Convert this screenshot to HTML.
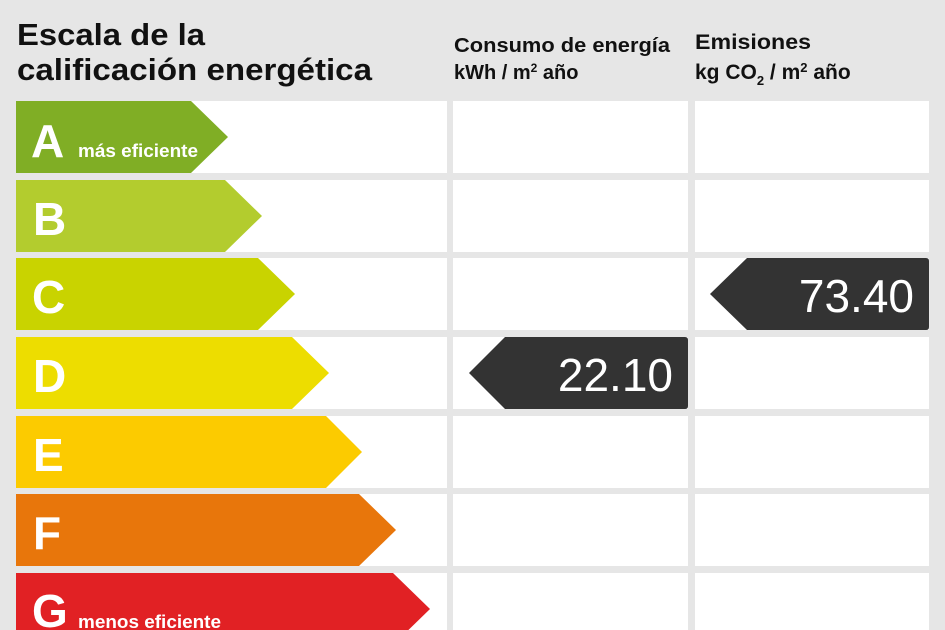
<!DOCTYPE html>
<html><head><meta charset="utf-8"><style>
html,body{margin:0;padding:0;background:#e6e6e6;width:945px;height:630px;overflow:hidden}
svg{display:block}
text{font-family:"Liberation Sans",Arial,sans-serif}
</style></head><body>
<svg width="945" height="630" viewBox="0 0 945 630" xmlns="http://www.w3.org/2000/svg">
<rect width="945" height="630" fill="#e6e6e6"/>
<text x="17" y="45" font-size="31" font-weight="bold" fill="#111" textLength="188" lengthAdjust="spacingAndGlyphs">Escala de la</text>
<text x="17" y="80" font-size="31" font-weight="bold" fill="#111" textLength="355" lengthAdjust="spacingAndGlyphs">calificación energética</text>
<text x="454" y="52" font-size="20" font-weight="bold" fill="#111" textLength="216" lengthAdjust="spacingAndGlyphs">Consumo de energía</text>
<text x="454" y="79" font-size="20" font-weight="bold" fill="#111">kWh / m<tspan font-size="12" dy="-7">2</tspan><tspan dy="7"> año</tspan></text>
<text x="695" y="49" font-size="21" font-weight="bold" fill="#111" textLength="116" lengthAdjust="spacingAndGlyphs">Emisiones</text>
<text x="695" y="79" font-size="21" font-weight="bold" fill="#111">kg CO<tspan font-size="13" dy="6">2</tspan><tspan dy="-6"> / m</tspan><tspan font-size="13" dy="-7">2</tspan><tspan dy="7"> año</tspan></text>
<g fill="#fff">
<rect x="16" y="101" width="431" height="72"/><rect x="453" y="101" width="235" height="72"/><rect x="695" y="101" width="234" height="72"/>
<rect x="16" y="180" width="431" height="72"/><rect x="453" y="180" width="235" height="72"/><rect x="695" y="180" width="234" height="72"/>
<rect x="16" y="258" width="431" height="72"/><rect x="453" y="258" width="235" height="72"/><rect x="695" y="258" width="234" height="72"/>
<rect x="16" y="337" width="431" height="72"/><rect x="453" y="337" width="235" height="72"/><rect x="695" y="337" width="234" height="72"/>
<rect x="16" y="416" width="431" height="72"/><rect x="453" y="416" width="235" height="72"/><rect x="695" y="416" width="234" height="72"/>
<rect x="16" y="494" width="431" height="72"/><rect x="453" y="494" width="235" height="72"/><rect x="695" y="494" width="234" height="72"/>
<rect x="16" y="573" width="431" height="72"/><rect x="453" y="573" width="235" height="72"/><rect x="695" y="573" width="234" height="72"/>
</g>
<polygon points="16,101 191,101 228,137 191,173 16,173" fill="#80ae25"/>
<polygon points="16,180 225,180 262,216 225,252 16,252" fill="#b3cc2e"/>
<polygon points="16,258 258,258 295,294 258,330 16,330" fill="#c9d300"/>
<polygon points="16,337 292,337 329,373 292,409 16,409" fill="#eddd00"/>
<polygon points="16,416 326,416 362,452 326,488 16,488" fill="#fccb00"/>
<polygon points="16,494 359,494 396,530 359,566 16,566" fill="#e8760b"/>
<polygon points="16,573 393,573 430,609 393,645 16,645" fill="#e12124"/>
<g fill="#fff" font-weight="bold" font-size="46">
<text x="31" y="157">A</text>
<text x="33" y="235">B</text>
<text x="32" y="313">C</text>
<text x="33" y="392">D</text>
<text x="33" y="471">E</text>
<text x="33" y="549">F</text>
<text x="32" y="627">G</text>
</g>
<text x="78" y="157" font-size="18" font-weight="bold" fill="#fff" textLength="120" lengthAdjust="spacingAndGlyphs">más eficiente</text>
<text x="78" y="628" font-size="18" font-weight="bold" fill="#fff" textLength="143" lengthAdjust="spacingAndGlyphs">menos eficiente</text>
<path d="M747,258 H926 Q929,258 929,261 V327 Q929,330 926,330 H747 L710,294 Z" fill="#333"/>
<text x="914" y="312" font-size="46" fill="#fff" text-anchor="end">73.40</text>
<path d="M505,337 H685 Q688,337 688,340 V406 Q688,409 685,409 H505 L469,373 Z" fill="#333"/>
<text x="673" y="391" font-size="46" fill="#fff" text-anchor="end">22.10</text>
</svg>
</body></html>
